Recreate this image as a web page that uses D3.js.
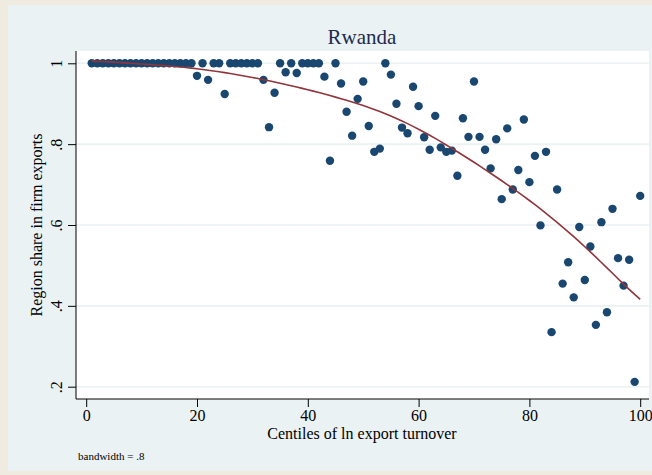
<!DOCTYPE html>
<html>
<head>
<meta charset="utf-8">
<script src="https://cdn.jsdelivr.net/npm/d3@7"></script>
<style>
  html, body { margin: 0; padding: 0; background: #efebe0; }
  svg { display: block; }
</style>
</head>
<body>
<script>
// Centiles of ln export turnover (1..100)
const centiles = d3.range(1, 101);

// Region share in firm exports, one value per centile
const regionShare = [
  1, 1, 1, 1, 1, 1, 1, 1, 1, 1,
  1, 1, 1, 1, 1, 1, 1, 1, 1, 0.969,
  1, 0.959, 1, 1, 0.924, 1, 1, 1, 1, 1,
  1, 0.959, 0.842, 0.927, 1, 0.978, 1, 0.976, 1, 1,
  1, 1, 0.967, 0.759, 1, 0.950, 0.880, 0.821, 0.912, 0.955,
  0.845, 0.781, 0.789, 1, 0.972, 0.900, 0.841, 0.827, 0.942, 0.894,
  0.817, 0.786, 0.870, 0.792, 0.781, 0.784, 0.722, 0.864, 0.818, 0.955,
  0.818, 0.786, 0.740, 0.812, 0.664, 0.839, 0.688, 0.736, 0.861, 0.706,
  0.771, 0.599, 0.781, 0.335, 0.688, 0.455, 0.508, 0.421, 0.595, 0.464,
  0.547, 0.353, 0.607, 0.384, 0.640, 0.518, 0.450, 0.514, 0.212, 0.672
];

const xTicks = [0, 20, 40, 60, 80, 100];
const yTicks = [0.2, 0.4, 0.6, 0.8, 1];
const bandwidth = 0.8;

// Running-line lowess (tricube weights, local linear, symmetric neighbourhood)
function lowess(xs, ys, bw) {
  const n = xs.length;
  const k = Math.floor((n * bw - 0.5) / 2);
  return xs.map((xi, i) => {
    const lo = Math.max(0, i - k), hi = Math.min(n - 1, i + k);
    const delta = 1.0001 * Math.max(xs[hi] - xi, xi - xs[lo]);
    let sw = 0, sx = 0, sy = 0;
    const w = [];
    for (let j = lo; j <= hi; j++) {
      const u = Math.abs(xs[j] - xi) / delta;
      const wj = u < 1 ? Math.pow(1 - u * u * u, 3) : 0;
      w.push(wj); sw += wj; sx += wj * xs[j]; sy += wj * ys[j];
    }
    const mx = sx / sw, my = sy / sw;
    let sxx = 0, sxy = 0;
    for (let j = lo; j <= hi; j++) {
      const wj = w[j - lo];
      sxx += wj * (xs[j] - mx) * (xs[j] - mx);
      sxy += wj * (xs[j] - mx) * (ys[j] - my);
    }
    const b = sxx > 0 ? sxy / sxx : 0;
    return my + b * (xi - mx);
  });
}

const W = 652, H = 475;
const svg = d3.select("body").append("svg").attr("width", W).attr("height", H);

// Graph region
svg.append("rect").attr("x", 8).attr("y", 5).attr("width", W - 8).attr("height", 466)
  .attr("fill", "#eaf2f3");

// Plot region
const plot = { left: 76, top: 51, right: 649, bottom: 399 };
svg.append("rect").attr("x", plot.left).attr("y", plot.top)
  .attr("width", plot.right - plot.left).attr("height", plot.bottom - plot.top)
  .attr("fill", "#ffffff");

const x = d3.scaleLinear().domain([0, 100]).range([86.2, 640.2]);
const y = d3.scaleLinear().domain([0.2, 1]).range([386.7, 63.3]);

// Gridlines
svg.append("g").selectAll("line").data(yTicks).join("line")
  .attr("x1", plot.left).attr("x2", plot.right)
  .attr("y1", d => y(d)).attr("y2", d => y(d))
  .attr("stroke", "#eaf2f3").attr("stroke-width", 1.6);

const serif = "'Liberation Serif', 'Times New Roman', serif";

// Y axis
const yAxis = svg.append("g").attr("transform", `translate(${plot.left},0)`)
  .call(d3.axisLeft(y).tickValues(yTicks).tickSize(8).tickPadding(6)
    .tickFormat(d => d === 1 ? "1" : d3.format(".1f")(d).replace(/^0/, "")));
yAxis.select(".domain").attr("d", `M0,${plot.top}V${plot.bottom}`).attr("stroke", "#000");
yAxis.selectAll(".tick line").attr("stroke", "#000");
yAxis.selectAll(".tick text")
  .attr("font-family", serif).attr("font-size", 16).attr("fill", "#000")
  .attr("text-anchor", "middle").attr("x", null).attr("dy", null)
  .attr("transform", "translate(-20,0) rotate(-90)")
  .attr("dominant-baseline", "central");

// X axis
const xAxis = svg.append("g").attr("transform", `translate(0,${plot.bottom})`)
  .call(d3.axisBottom(x).tickValues(xTicks).tickSize(8).tickPadding(3));
xAxis.select(".domain").attr("d", `M${plot.left},0H${plot.right}`).attr("stroke", "#000");
xAxis.selectAll(".tick line").attr("stroke", "#000");
xAxis.selectAll(".tick text")
  .attr("font-family", serif).attr("font-size", 16).attr("fill", "#000");

// Axis titles
svg.append("text").attr("x", 362).attr("y", 439)
  .attr("text-anchor", "middle").attr("font-family", serif).attr("font-size", 16)
  .attr("fill", "#000").text("Centiles of ln export turnover");

svg.append("text").attr("transform", `translate(42,225) rotate(-90)`)
  .attr("text-anchor", "middle").attr("font-family", serif).attr("font-size", 16)
  .attr("fill", "#000").text("Region share in firm exports");

// Title
svg.append("text").attr("x", 362).attr("y", 44)
  .attr("text-anchor", "middle").attr("font-family", serif).attr("font-size", 21)
  .attr("fill", "#1e2b4d").text("Rwanda");

// Note
svg.append("text").attr("x", 78).attr("y", 460)
  .attr("font-family", serif).attr("font-size", 11)
  .attr("fill", "#000").text("bandwidth = " + String(bandwidth).replace(/^0/, ""));

// Points
svg.append("g").selectAll("circle").data(centiles).join("circle")
  .attr("cx", (d) => x(d)).attr("cy", (d, i) => y(regionShare[i]))
  .attr("r", 4.2).attr("fill", "#1a476f");

// Lowess curve
const fitted = lowess(centiles, regionShare, bandwidth);
svg.append("path")
  .datum(centiles.map((c, i) => [c, fitted[i]]))
  .attr("fill", "none").attr("stroke", "#90353b").attr("stroke-width", 1.6)
  .attr("d", d3.line().x(d => x(d[0])).y(d => y(d[1])));
</script>
</body>
</html>
